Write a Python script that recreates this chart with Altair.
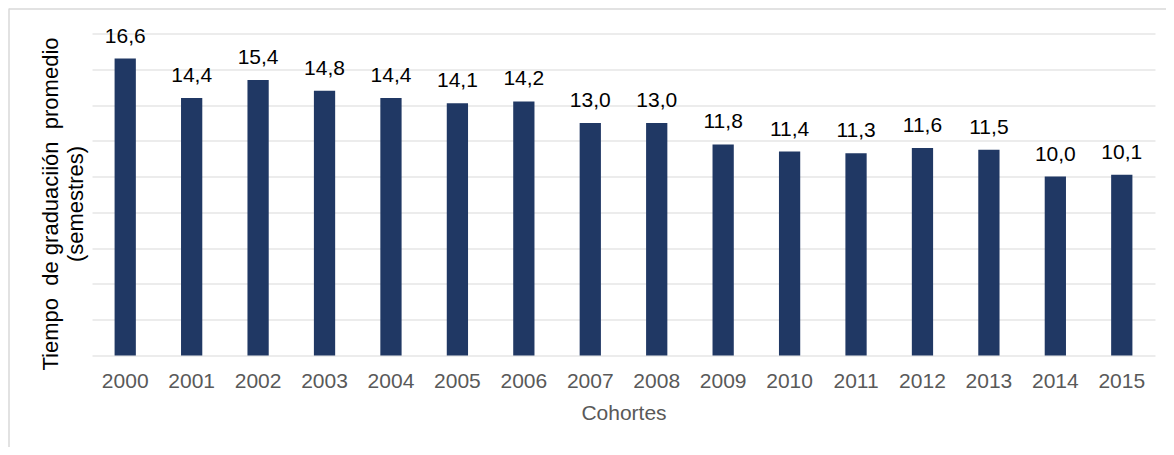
import altair as alt
import pandas as pd

cohortes = ["2000", "2001", "2002", "2003", "2004", "2005", "2006", "2007",
            "2008", "2009", "2010", "2011", "2012", "2013", "2014", "2015"]
valores = [16.6, 14.4, 15.4, 14.8, 14.4, 14.1, 14.2, 13.0,
           13.0, 11.8, 11.4, 11.3, 11.6, 11.5, 10.0, 10.1]
etiquetas = [f"{v:.1f}".replace(".", ",") for v in valores]
y_ticks = [0, 2, 4, 6, 8, 10, 12, 14, 16, 18]

df = pd.DataFrame({"cohorte": cohortes, "valor": valores, "etiqueta": etiquetas})

FONT = "Liberation Sans"
GRID = "#d9d9d9"
NB = "\u00a0"

x_enc = alt.X(
    "cohorte:N", sort=cohortes,
    scale=alt.Scale(paddingInner=0.68, paddingOuter=0.34),
    axis=alt.Axis(
        title="Cohortes", labelAngle=0, ticks=False, tickSize=0, domain=False,
        labelFont=FONT, labelFontSize=21, labelColor="#595959", labelPadding=15,
        titleFont=FONT, titleFontSize=21, titleFontWeight="normal",
        titleColor="#595959", titlePadding=11,
    ),
)
y_enc = alt.Y(
    "valor:Q",
    scale=alt.Scale(domain=[0, 18], nice=False, zero=True),
    axis=alt.Axis(
        values=y_ticks, tickCount=10, labels=False, ticks=False, domain=False,
        grid=True, gridColor=GRID, gridWidth=1.2,
        title=[f"Tiempo{NB} de graduaciión{NB} promedio", "(semestres)"],
        titleFont=FONT, titleFontSize=22, titleFontWeight="normal",
        titleColor="#000000", titleAngle=270, titleAlign="center",
        titleBaseline="middle", titleX=-42, titleY=170, titleLineHeight=25,
    ),
)

base = alt.Chart(df)
bars = base.mark_bar(color="#203864").encode(x=x_enc, y=y_enc)
texts = base.mark_text(
    baseline="alphabetic", dy=-16, fontSize=21, font=FONT, color="#000000"
).encode(x=x_enc, y=y_enc, text="etiqueta:N")

frame = pd.DataFrame({"k": [0]})
top_line = alt.Chart(frame).mark_rule(color=GRID, strokeWidth=1.5).encode(
    x=alt.value(-83), x2=alt.value(1074), y=alt.value(-24.5)
)
left_line = alt.Chart(frame).mark_rule(color=GRID, strokeWidth=1.5).encode(
    x=alt.value(-83), y=alt.value(-25), y2=alt.value(414)
)

chart = alt.layer(bars, texts, top_line, left_line).properties(
    width=1063, height=322,
    autosize=alt.AutoSizeParams(type="none"),
    padding={"left": 84, "top": 25.5, "right": 11, "bottom": 91},
    background="white",
).configure_view(stroke=None)

chart.save("out.html", embed_options={"renderer": "svg", "actions": False})
